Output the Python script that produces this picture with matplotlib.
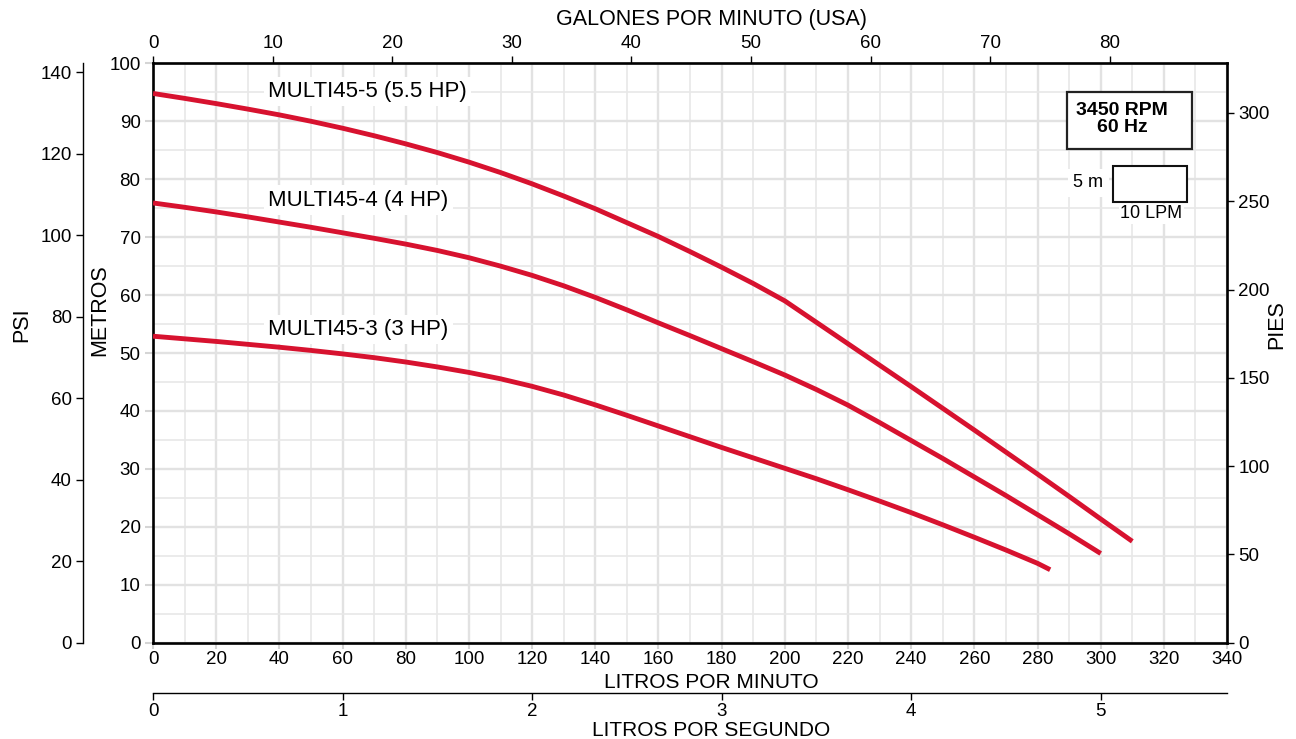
import matplotlib.pyplot as plt
from matplotlib.patches import Rectangle

plt.rcParams['font.family'] = ['Liberation Sans', 'DejaVu Sans']

# curve readings: caudal (litros por minuto) vs carga (metros)
lpm_5 = [0, 10, 20, 30, 40, 50, 60, 70, 80, 90, 100, 110, 120, 130, 140, 150, 160,
         170, 180, 190, 200, 210, 220, 230, 240, 250, 260, 270, 280, 290, 300, 310]
m_5 = [94.8, 93.95, 93.05, 92.1, 91.1, 90.0, 88.8, 87.5, 86.1, 84.6, 82.95, 81.15, 79.2,
       77.1, 74.9, 72.5, 70.1, 67.5, 64.8, 62.0, 59.0, 55.3, 51.6, 47.9, 44.2, 40.45,
       36.7, 32.9, 29.1, 25.25, 21.35, 17.5]

lpm_4 = [0, 10, 20, 30, 40, 50, 60, 70, 80, 90, 100, 110, 120, 130, 140, 150, 160,
         170, 180, 190, 200, 210, 220, 230, 240, 250, 260, 270, 280, 290, 300]
m_4 = [75.9, 75.15, 74.35, 73.5, 72.6, 71.7, 70.75, 69.8, 68.8, 67.7, 66.45, 65.0, 63.4,
       61.6, 59.6, 57.45, 55.2, 53.0, 50.75, 48.5, 46.2, 43.7, 41.0, 38.0, 34.9, 31.8,
       28.6, 25.4, 22.1, 18.8, 15.4]

lpm_3 = [0, 10, 20, 30, 40, 50, 60, 70, 80, 90, 100, 110, 120, 130, 140, 150, 160,
         170, 180, 190, 200, 210, 220, 230, 240, 250, 260, 270, 280, 284]
m_3 = [52.9, 52.45, 52.0, 51.5, 51.0, 50.45, 49.85, 49.2, 48.45, 47.6, 46.65, 45.55, 44.25,
       42.75, 41.05, 39.25, 37.4, 35.55, 33.7, 31.9, 30.1, 28.3, 26.4, 24.45, 22.45, 20.35,
       18.2, 16.0, 13.7, 12.6]

curves = [(lpm_5, m_5, 'MULTI45-5 (5.5 HP)', 95.1),
          (lpm_4, m_4, 'MULTI45-4 (4 HP)', 76.4),
          (lpm_3, m_3, 'MULTI45-3 (3 HP)', 54.1)]

red = '#d7122f'
grey = '#e2e2e2'

fig = plt.figure(figsize=(12.96, 7.39), dpi=100)
ax = fig.add_axes([0.1181, 0.1303, 0.8287, 0.784])

ax.set_xlim(0, 340)
ax.set_ylim(0, 100)
ax.set_xticks(range(0, 341, 20))
ax.set_xticks(range(0, 341, 10), minor=True)
ax.set_yticks(range(0, 101, 10))
ax.set_yticks(range(0, 101, 5), minor=True)
ax.grid(which='major', color=grey, lw=1.7)
ax.grid(which='minor', color='#e8e8e8', lw=1.2)
ax.set_axisbelow(True)
ax.tick_params(which='minor', length=0)
ax.tick_params(which='major', length=6, width=1.5, color='#d5d5d5', labelsize=13.5, pad=3)
ax.tick_params(axis='x', which='major', length=4, pad=2)
for s in ax.spines.values():
    s.set_linewidth(1.9)

for x, y, name, ly in curves:
    ax.plot(x, y, color=red, lw=3.5, solid_capstyle='butt', zorder=3)
    ax.text(36.4, ly, name, fontsize=16, va='center', ha='left', zorder=2,
            bbox=dict(fc='white', ec='none', pad=3))

# galones por minuto (arriba)
top = ax.secondary_xaxis('top', functions=(lambda q: q / 3.78541, lambda g: g * 3.78541))
top.set_xticks(range(0, 81, 10))
top.tick_params(length=5, width=1, labelsize=13.5, pad=3)

# litros por segundo (abajo)
lps = ax.secondary_xaxis(-0.0873, functions=(lambda q: q / 60.0, lambda s: s * 60.0))
lps.set_xticks(range(0, 6))
lps.tick_params(length=5, width=1, labelsize=13.5, pad=2)
lps.spines['bottom'].set_linewidth(1.0)

# psi (izquierda)
psi = ax.secondary_yaxis(-0.0652, functions=(lambda m: m * 1.42233, lambda p: p / 1.42233))
psi.set_yticks(range(0, 141, 20))
psi.tick_params(length=5, width=1, labelsize=13.5, pad=3)
psi.spines['left'].set_linewidth(1.0)

# pies (derecha)
pies = ax.secondary_yaxis('right', functions=(lambda m: m * 3.28084, lambda f: f / 3.28084))
pies.set_yticks(range(0, 301, 50))
pies.tick_params(length=5, width=1, labelsize=13.5, pad=3)

fig.text(711 / 1296, 1 - 20 / 739, 'GALONES POR MINUTO (USA)', fontsize=15.5, ha='center', va='center')
fig.text(711 / 1296, 1 - 682 / 739, 'LITROS POR MINUTO', fontsize=15, ha='center', va='center')
fig.text(711 / 1296, 1 - 730 / 739, 'LITROS POR SEGUNDO', fontsize=15, ha='center', va='center')
fig.text(22 / 1296, 1 - 325 / 739, 'PSI', fontsize=15.5, rotation=90, ha='center', va='center')
fig.text(100 / 1296, 1 - 310 / 739, 'METROS', fontsize=15.5, rotation=90, ha='center', va='center')
fig.text(1277 / 1296, 1 - 325 / 739, 'PIES', fontsize=15.5, rotation=90, ha='center', va='center')

# caja de velocidad
ax.add_patch(Rectangle((0.851, 0.852), 0.1164, 0.0984, transform=ax.transAxes,
                       fc='white', ec='#222222', lw=1.6, zorder=4))
ax.text(0.9022, 0.9194, '3450 RPM', transform=ax.transAxes, fontsize=14,
        fontweight='bold', ha='center', va='center', zorder=5)
ax.text(0.9022, 0.8889, '60 Hz', transform=ax.transAxes, fontsize=14,
        fontweight='bold', ha='center', va='center', zorder=5)

# escala
ax.add_patch(Rectangle((0.8936, 0.7611), 0.0689, 0.0621, transform=ax.transAxes,
                       fc='white', ec='#111111', lw=1.5, zorder=4))
ax.text(0.8848, 0.794, '5 m', transform=ax.transAxes, fontsize=13, ha='right', va='center',
        zorder=5, bbox=dict(fc='white', ec='none', pad=4))
ax.text(0.9297, 0.740, '10 LPM', transform=ax.transAxes, fontsize=13, ha='center', va='center',
        zorder=5, bbox=dict(fc='white', ec='none', pad=1))

fig.savefig('out.png', dpi=100)
